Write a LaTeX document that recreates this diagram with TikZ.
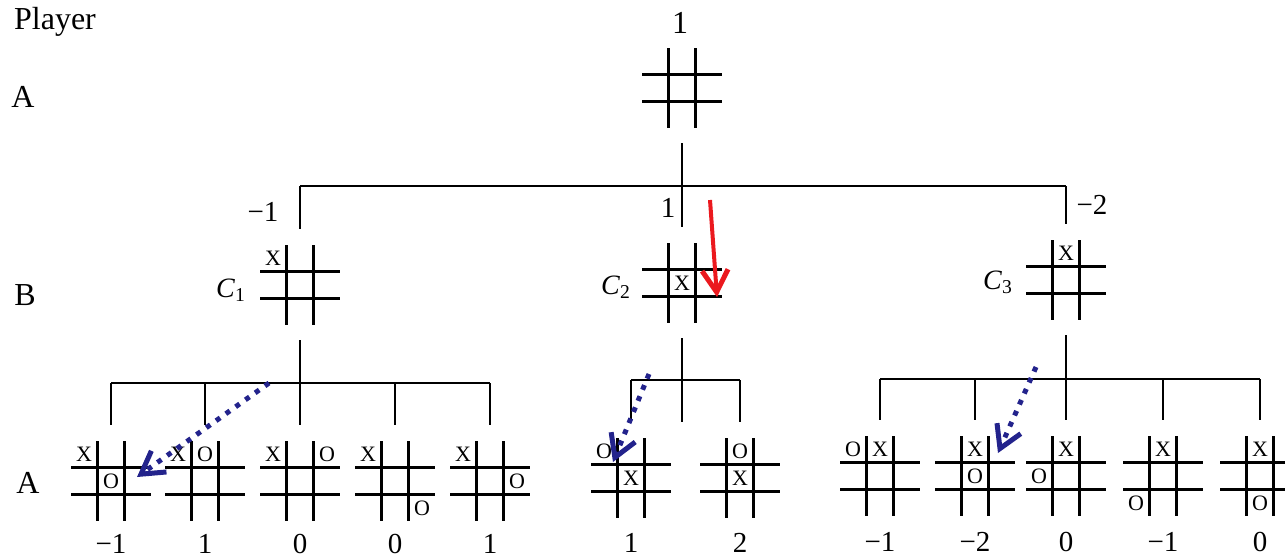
\documentclass[tikz,border=0pt]{standalone}
\usepackage{fontspec}
\setmainfont{Liberation Serif}
\usetikzlibrary{arrows.meta, calc}
\definecolor{ArrowRed}{RGB}{235,25,30}
\definecolor{ArrowBlue}{RGB}{35,35,140}

% a tic-tac-toe board: name, centre
\newcommand{\board}[2]{%
  \coordinate (#1) at (#2);
  \begin{scope}[shift={(#2)}]
    \draw[grid] (-40,-13.5) -- (40,-13.5) (-40,13.5) -- (40,13.5)
                (-13.5,-40) -- (-13.5,40) (13.5,-40) -- (13.5,40);
  \end{scope}}
% marks on a board: name, list of letter/column/row
\newcommand{\putmarks}[2]{%
  \foreach \m/\c/\r in {#2}
    \node[mk] (#1-\m) at ($(#1)+(27*\c,27*\r)$) {\m};}

\begin{document}
\begin{tikzpicture}[
  x=0.5pt, y=-0.5pt,
  grid/.style={line width=1.25pt},
  branch/.style={line width=1pt},
  lab/.style={font=\fontsize{16}{19}\selectfont, inner sep=0pt},
  val/.style={font=\fontsize{14.5}{17}\selectfont, inner sep=0pt},
  mk/.style={font=\fontsize{11}{13}\selectfont, inner sep=0pt},
  cname/.style={font=\fontsize{14}{16}\selectfont, inner sep=0pt},
  hint/.style={-{Straight Barb[length=11pt,width=13pt,line width=2.5pt]},
               line width=2pt},
]
\useasboundingbox (0,0) rectangle (1285,558);

% Players
\node[lab] (player) at (55,22) {Player};
\node[lab] (pa0) at (23,97) {A};
\node[lab] (pb) at (25,295) {B};
\node[lab] (pa1) at (28,483) {A};

% Boards
\board{root}{682,88}
\board{c1}{300,285}
\board{c2}{682,283}
\board{c3}{1066,280}
\board{l11}{111,481}
\board{l12}{205,481}
\board{l13}{300,481}
\board{l14}{395,481}
\board{l15}{490,481}
\board{l21}{631,478}
\board{l22}{740,478}
\board{l31}{880,476}
\board{l32}{975,476}
\board{l33}{1066,476}
\board{l34}{1163,476}
\board{l35}{1260,476}

% Marks
\putmarks{c1}{X/-1/-1}
\putmarks{c2}{X/0/0}
\putmarks{c3}{X/0/-1}
\putmarks{l11}{X/-1/-1, O/0/0}
\putmarks{l12}{X/-1/-1, O/0/-1}
\putmarks{l13}{X/-1/-1, O/1/-1}
\putmarks{l14}{X/-1/-1, O/1/1}
\putmarks{l15}{X/-1/-1, O/1/0}
\putmarks{l21}{O/-1/-1, X/0/0}
\putmarks{l22}{O/0/-1, X/0/0}
\putmarks{l31}{O/-1/-1, X/0/-1}
\putmarks{l32}{X/0/-1, O/0/0}
\putmarks{l33}{X/0/-1, O/-1/0}
\putmarks{l34}{X/0/-1, O/-1/1}
\putmarks{l35}{X/0/-1, O/0/1}

% Board names
\node[cname] (n1) at ($(c1)+(-69,5)$) {\textit{C}\textsubscript{1}};
\node[cname] (n2) at ($(c2)+(-66,4)$) {\textit{C}\textsubscript{2}};
\node[cname] (n3) at ($(c3)+(-68,2)$) {\textit{C}\textsubscript{3}};

% Tree from the root
\coordinate (j0) at ($(root)+(0,98)$);
\draw[branch] ($(root)+(0,55)$) -- ($(c2)+(0,-56)$);
\draw[branch] (c1 |- j0) -- (c3 |- j0);
\draw[branch] (c1 |- j0) -- ($(c1)+(0,-56)$);
\draw[branch] (c3 |- j0) -- ($(c3)+(0,-56)$);

% Tree from C1
\coordinate (j1) at ($(c1)+(0,98)$);
\draw[branch] ($(c1)+(0,55)$) -- ($(l13)+(0,-56)$);
\draw[branch] (l11 |- j1) -- (l15 |- j1);
\foreach \n in {l11,l12,l14,l15}
  \draw[branch] (\n |- j1) -- ($(\n)+(0,-56)$);

% Tree from C2
\coordinate (j2) at ($(c2)+(0,97)$);
\draw[branch] ($(c2)+(0,55)$) -- ($(c2)+(0,139)$);
\draw[branch] (l21 |- j2) -- (l22 |- j2);
\foreach \n in {l21,l22}
  \draw[branch] (\n |- j2) -- ($(\n)+(0,-56)$);

% Tree from C3
\coordinate (j3) at ($(c3)+(0,99)$);
\draw[branch] ($(c3)+(0,55)$) -- ($(l33)+(0,-56)$);
\draw[branch] (l31 |- j3) -- (l35 |- j3);
\foreach \n in {l31,l32,l34,l35}
  \draw[branch] (\n |- j3) -- ($(\n)+(0,-56)$);

% Values
\node[lab] (v0) at ($(root)+(-2,-65)$) {1};
\node[val] (v1) at (263,212) {−1};
\node[val] (v2) at (668,208) {1};
\node[val] (v3) at (1092,205) {−2};
\node[val] (v11) at ($(l11)+(0,63)$) {−1};
\node[val] (v12) at ($(l12)+(0,63)$) {1};
\node[val] (v13) at ($(l13)+(0,63)$) {0};
\node[val] (v14) at ($(l14)+(0,63)$) {0};
\node[val] (v15) at ($(l15)+(0,63)$) {1};
\node[val] (v21) at ($(l21)+(0,65)$) {1};
\node[val] (v22) at ($(l22)+(0,65)$) {2};
\node[val] (v31) at ($(l31)+(0,66)$) {−1};
\node[val] (v32) at ($(l32)+(0,66)$) {−2};
\node[val] (v33) at ($(l33)+(0,66)$) {0};
\node[val] (v34) at ($(l34)+(0,66)$) {−1};
\node[val] (v35) at ($(l35)+(0,66)$) {0};

% Hints
\coordinate (r0) at (710,200);
\coordinate (r1) at (717,297);
\draw[hint, ArrowRed] (r0) -- (r1);
\coordinate (s1) at (269,383);
\coordinate (e1) at (137,477);
\coordinate (s2) at (649,374);
\coordinate (e2) at (613,462);
\coordinate (s3) at (1036,367);
\coordinate (e3) at (998,453);
\foreach \i in {1,2,3}
  \draw[hint, ArrowBlue, line width=2.5pt, dash pattern=on 2.5pt off 3.5pt]
    (s\i) -- (e\i);

\end{tikzpicture}
\end{document}
